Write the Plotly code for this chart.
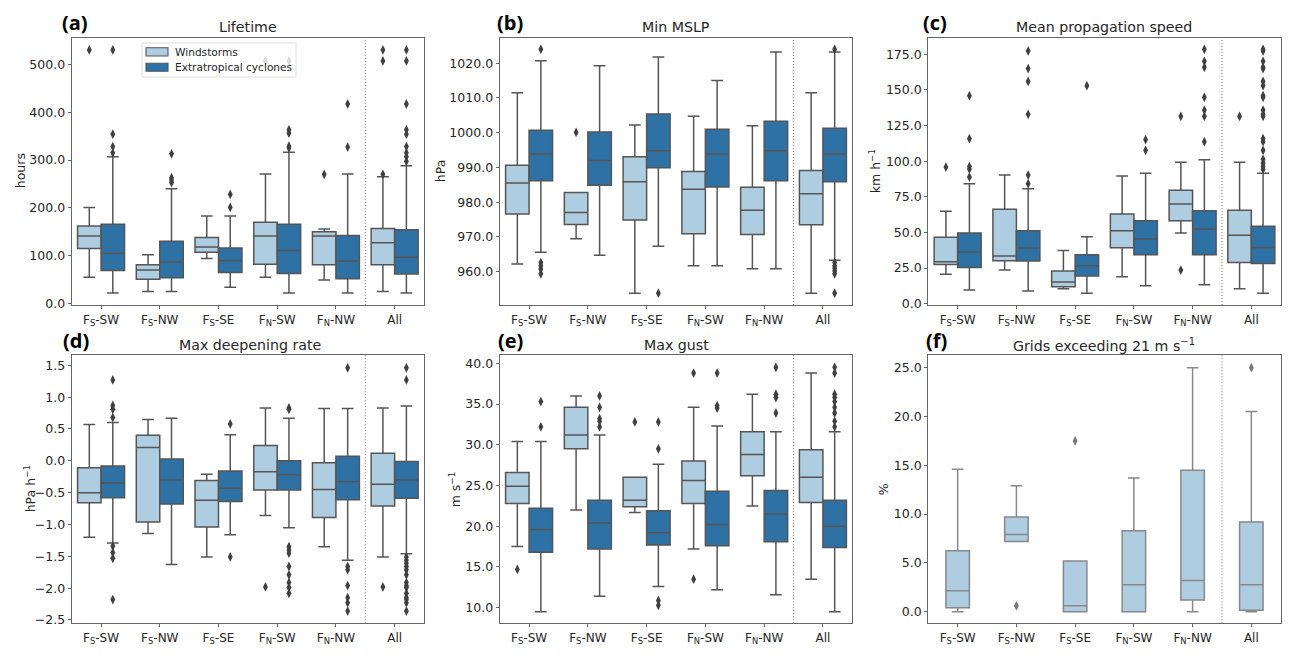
import plotly.graph_objects as go

W, H = 1295, 656

categories = ['F<sub>S</sub>-SW', 'F<sub>S</sub>-NW', 'F<sub>S</sub>-SE', 'F<sub>N</sub>-SW', 'F<sub>N</sub>-NW', 'All']

# each row: lower whisker, q1, median, q3, upper whisker
lifetime_ws = [[55, 115, 141, 162, 201], [25, 51, 70, 81, 102], [94, 107, 118, 138, 183],
               [55, 82, 141, 170, 271], [49, 81, 141, 150, 156], [25, 81, 127, 157, 265]]
lifetime_ws_out = [[530], [], [], [507], [270], [270, 507, 530]]
lifetime_ec = [[22, 69, 105, 166, 307], [25, 54, 87, 130, 240], [34, 65, 90, 116, 183],
               [22, 63, 111, 166, 316], [22, 52, 89, 142, 271], [22, 62, 97, 154, 288]]
lifetime_ec_out = [[315, 328, 354, 530], [253, 258, 263, 313], [201, 228],
                   [325, 329, 356, 363, 507], [327, 417],
                   [297, 307, 315, 328, 354, 363, 417, 507, 530]]

mslp_ws = [[962.2, 976.6, 985.5, 990.6, 1011.5], [969.5, 973.6, 977, 982.8, 982.8],
           [953.8, 974.9, 985.9, 993.1, 1002.2], [961.7, 970.9, 983.7, 988.8, 1004.7],
           [960.8, 970.7, 977.7, 984.3, 1002], [953.8, 973.5, 982.4, 989.1, 1011.5]]
mslp_ws_out = [[], [1000.1], [], [], [], []]
mslp_ec = [[965.6, 986.2, 993.9, 1000.7, 1020.7], [964.7, 984.9, 992, 1000.2, 1019.3],
           [967.3, 989.9, 994.8, 1005.4, 1021.8], [961.7, 984.4, 993.9, 1001, 1015],
           [960.8, 986.2, 994.8, 1003.3, 1023.2], [963.3, 985.9, 993.9, 1001.3, 1023.2]]
mslp_ec_out = [[1024, 962.6, 961.7, 960.7, 959.4], [], [953.8], [], [],
               [1024, 962.6, 961.7, 961, 960.2, 959.4, 953.8]]

speed_ws = [[20.6, 27.6, 29.5, 46.6, 64.8], [23.6, 30.2, 33.5, 66.2, 90.3], [10.5, 11.9, 15.2, 22.9, 37.4],
            [19, 39.3, 51.2, 62.9, 89.6], [49.6, 58.3, 70, 79.6, 99.2], [10.5, 29, 48, 65.5, 99.2]]
speed_ws_out = [[95.9], [], [], [], [23.6, 131.5], [131.5]]
speed_ec = [[9.6, 25.5, 36.3, 49.6, 84.2], [8.9, 29.9, 39.1, 51.2, 80.7], [7.3, 19.4, 26.7, 34.4, 47],
            [12.6, 34.4, 45.4, 58.3, 91.5], [13.3, 34.4, 52.4, 65.3, 101], [7.3, 28.3, 39.5, 54.3, 91.5]]
speed_ec_out = [[88.9, 94.5, 96.2, 115.8, 146], [84.2, 90.3, 132.9, 156, 165, 177.4], [153],
                [107.6, 115.1], [113.7, 131.5, 135.9, 144.8, 165.9, 170.1, 178.5],
                [94.3, 96.2, 98.5, 101.3, 107.6, 113.7, 115.8, 131.5, 132.9, 135.9, 144.8, 146,
                 153, 156, 165, 165.9, 170.1, 177.4, 178.5]]

deepening_ws = [[-1.20, -0.66, -0.50, -0.11, 0.57], [-1.14, -0.96, 0.21, 0.40, 0.65],
                [-1.51, -1.04, -0.62, -0.31, -0.21], [-0.86, -0.46, -0.17, 0.24, 0.83],
                [-1.35, -0.89, -0.45, -0.03, 0.82], [-1.51, -0.71, -0.37, 0.12, 0.83]]
deepening_ws_out = [[], [], [], [-1.98], [], [-1.98]]
deepening_ec = [[-1.29, -0.58, -0.35, -0.08, 0.60], [-1.63, -0.68, -0.30, 0.03, 0.67],
                [-1.16, -0.64, -0.43, -0.16, 0.41], [-1.05, -0.46, -0.22, 0.0, 0.67],
                [-1.56, -0.61, -0.33, 0.07, 0.82], [-1.46, -0.59, -0.30, -0.01, 0.86]]
deepening_ec_out = [[1.27, 0.87, 0.81, 0.68, -1.34, -1.44, -1.53, -2.18], [], [0.58, -1.51],
                    [0.83, 0.81, -1.35, -1.40, -1.45, -1.66, -1.79, -1.91, -1.99, -2.08],
                    [1.46, -1.66, -1.71, -1.96, -2.15, -2.23, -2.36],
                    [1.46, 1.27, -1.51, -1.56, -1.61, -1.66, -1.71, -1.79, -1.91, -1.96, -1.99,
                     -2.08, -2.15, -2.18, -2.23, -2.36]]

gust_ws = [[17.5, 22.8, 24.9, 26.6, 30.4], [22, 29.5, 31.2, 34.6, 36], [21.7, 22.4, 23.2, 26, 26],
           [17.2, 22.8, 25.6, 28, 34.6], [22.5, 26.2, 28.8, 31.6, 36.2], [13.5, 22.9, 26, 29.4, 38.8]]
gust_ws_out = [[14.7], [], [32.8], [13.5, 38.8], [], []]
gust_ec = [[9.5, 16.8, 19.6, 22.2, 30.4], [11.4, 17.2, 20.4, 23.2, 31.2], [12.6, 17.7, 19.2, 21.9, 27.6],
           [12.2, 17.6, 20.2, 24.3, 32.3], [11.6, 18.1, 21.5, 24.4, 31.6], [9.5, 17.4, 20, 23.2, 31.6]]
gust_ec_out = [[32.2, 35.3], [32.2, 32.9, 33.2, 34.6, 36], [29.5, 32.8, 10.3, 10.9],
               [34.5, 34.8, 38.8], [33.9, 35.8, 36.2, 39.5],
               [32.2, 32.9, 33.9, 34.6, 35.3, 35.8, 36.2, 38.8, 39.5]]

grids_ws = [[0, 0.4, 2.15, 6.25, 14.6], [7.2, 7.2, 7.9, 9.7, 12.9], [0, 0, 0.6, 5.2, 5.2],
            [0, 0, 2.75, 8.3, 13.7], [0, 1.2, 3.2, 14.5, 25], [0, 0.14, 2.75, 9.2, 20.5]]
grids_ws_out = [[], [0.6], [17.5], [], [], [25]]

LIGHT = '#aecde0'
DARK = '#2e72a5'
LINE = '#555555'
TEXT = '#262626'
SPINE = '#666666'

# panel geometry in pixels of the page: left, right, top, bottom
panels = [
    dict(box=(71.7, 424, 37.5, 305), yr=(-3, 556), ticks=[0, 100, 200, 300, 400, 500], unit='hours',
         title='Lifetime', tag='(a)', tag_x=75, title_x=247.7, ylab_x=20,
         series=[(lifetime_ws, lifetime_ws_out), (lifetime_ec, lifetime_ec_out)]),
    dict(box=(499.7, 852.3, 37.5, 305), yr=(950.4, 1027.4), ticks=[960, 970, 980, 990, 1000, 1010, 1020], unit='hPa',
         title='Min MSLP', tag='(b)', tag_x=510, title_x=676, ylab_x=440,
         series=[(mslp_ws, mslp_ws_out), (mslp_ec, mslp_ec_out)]),
    dict(box=(928.3, 1280.7, 37.5, 305), yr=(-0.9, 186.8), ticks=[0, 25, 50, 75, 100, 125, 150, 175], unit='km h<sup>−1</sup>',
         title='Mean propagation speed', tag='(c)', tag_x=935, title_x=1104, ylab_x=875,
         series=[(speed_ws, speed_ws_out), (speed_ec, speed_ec_out)]),
    dict(box=(71.7, 424, 355.3, 623.3), yr=(-2.552, 1.657), ticks=[-2.5, -2, -1.5, -1, -0.5, 0, 0.5, 1, 1.5], unit='hPa h<sup>−1</sup>',
         title='Max deepening rate', tag='(d)', tag_x=76, title_x=250, ylab_x=30,
         series=[(deepening_ws, deepening_ws_out), (deepening_ec, deepening_ec_out)]),
    dict(box=(499.7, 852.3, 355.3, 623.3), yr=(8.09, 40.98), ticks=[10, 15, 20, 25, 30, 35, 40], unit='m s<sup>−1</sup>',
         title='Max gust', tag='(e)', tag_x=510, title_x=676, ylab_x=455,
         series=[(gust_ws, gust_ws_out), (gust_ec, gust_ec_out)]),
    dict(box=(928.3, 1280.7, 355.3, 623.3), yr=(-1.19, 26.27), ticks=[0, 5, 10, 15, 20, 25], unit='%',
         title='Grids exceeding 21 m s<sup>−1</sup>', tag='(f)', tag_x=937, title_x=1104, ylab_x=883,
         series=[(grids_ws, grids_ws_out)]),
]

names = ['Windstorms', 'Extratropical cyclones']
fills = [LIGHT, DARK]

fig = go.Figure()
layout = {}
notes = []
shapes = []

for n, p in enumerate(panels):
    suffix = '' if n == 0 else str(n + 1)
    left, right, top, bottom = p['box']
    xa, ya = 'x' + suffix, 'y' + suffix
    one_series = len(p['series']) == 1
    edge = '#888888' if one_series else LINE

    for s, (rows, outliers) in enumerate(p['series']):
        shift = 0 if one_series else (-0.2 if s == 0 else 0.2)
        pos = [i + shift for i in range(len(categories))]
        lo, q1, med, q3, hi = zip(*rows)
        fig.add_trace(go.Box(x=pos, lowerfence=lo, q1=q1, median=med, q3=q3, upperfence=hi,
                             width=0.4, whiskerwidth=0.5, boxpoints=False,
                             fillcolor=fills[s], line=dict(color=edge, width=1.5),
                             name=names[s], showlegend=False, xaxis=xa, yaxis=ya))
        ox, oy = [], []
        for i, vals in enumerate(outliers):
            ox += [pos[i]] * len(vals)
            oy += vals
        fig.add_trace(go.Scatter(x=ox, y=oy, mode='markers', showlegend=False, xaxis=xa, yaxis=ya,
                                 marker=dict(symbol='diamond-tall', size=7, color='#777777' if one_series else '#404040')))

    layout['xaxis' + suffix] = dict(domain=[left / W, right / W], anchor=ya, range=[-0.5, 5.5],
                                    tickvals=list(range(6)), ticktext=categories, ticks='outside', ticklen=3,
                                    tickcolor=SPINE, showline=True, linecolor=SPINE, linewidth=1.2, mirror=True,
                                    showgrid=False, zeroline=False, automargin=False,
                                    tickfont=dict(size=12, color=TEXT))
    layout['yaxis' + suffix] = dict(domain=[1 - bottom / H, 1 - top / H], anchor=xa, range=list(p['yr']),
                                    tickvals=p['ticks'], tickformat='.1f', ticks='outside', ticklen=3,
                                    tickcolor=SPINE, showline=True, linecolor=SPINE, linewidth=1.2, mirror=True,
                                    showgrid=False, zeroline=False, automargin=False,
                                    tickfont=dict(size=12.5, color=TEXT))
    shapes.append(dict(type='line', xref=xa, yref=ya + ' domain', x0=4.5, x1=4.5, y0=0, y1=1,
                       line=dict(color='#808080', width=1.1, dash='1px,2px')))

    mid = (top + bottom) / 2
    notes.append(dict(x=p['title_x'] / W, y=1 - (top - 10.5) / H, text=p['title'], showarrow=False,
                      xref='paper', yref='paper', xanchor='center', yanchor='middle',
                      font=dict(size=14.2, color=TEXT)))
    notes.append(dict(x=p['tag_x'] / W, y=1 - (top - 14.5) / H, text='<b>' + p['tag'] + '</b>', showarrow=False,
                      xref='paper', yref='paper', xanchor='center', yanchor='middle',
                      font=dict(family='Open Sans', size=20, color='black')))
    notes.append(dict(x=p['ylab_x'] / W, y=1 - mid / H, text=p['unit'], showarrow=False, textangle=-90,
                      xref='paper', yref='paper', xanchor='center', yanchor='middle',
                      font=dict(size=12.5, color=TEXT)))

# legend of panel (a), a tighter box than the built-in legend allows
def paper_rect(x0, x1, y0, y1, **kw):
    return dict(type='rect', xref='paper', yref='paper', layer='above',
                x0=x0 / W, x1=x1 / W, y0=1 - y1 / H, y1=1 - y0 / H, **kw)

shapes.append(paper_rect(142, 296, 43, 77, fillcolor='rgba(255,255,255,0.8)', line=dict(color='#dddddd', width=1)))
for name, fill, y0, y1 in zip(names, fills, (47.7, 63.3), (56, 71.3)):
    shapes.append(paper_rect(146, 168, y0, y1, fillcolor=fill, line=dict(color=LINE, width=1.1)))
    notes.append(dict(x=173 / W, y=1 - (y0 + y1) / 2 / H, text=name, showarrow=False,
                      xref='paper', yref='paper', xanchor='left', yanchor='middle',
                      font=dict(size=10.6, color=TEXT)))

fig.update_layout(**layout)
fig.update_layout(width=W, height=H, margin=dict(l=0, r=0, t=0, b=0), autosize=False,
                  paper_bgcolor='white', plot_bgcolor='white', showlegend=False,
                  font=dict(family='DejaVu Sans', color=TEXT),
                  annotations=notes, shapes=shapes, boxmode='overlay')

fig.write_html("out.html", config=dict(displayModeBar=False),
               post_script="document.body.style.margin='0';")
